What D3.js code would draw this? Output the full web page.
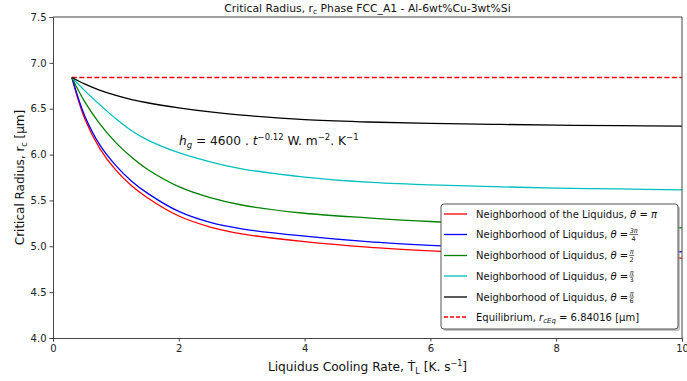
<!DOCTYPE html>
<html>
<head>
<meta charset="utf-8">
<script src="https://cdn.jsdelivr.net/npm/d3@7"></script>
<style>
  body{margin:0;background:#fff;}
  svg{font-family:"DejaVu Sans",sans-serif;}
</style>
</head>
<body>
<div id="chart"></div>
<script>
// cooling rate samples [K/s]
const rate = [0.3,0.5,0.75,1.0,1.25,1.5,2,2.5,3,4,5,6,7,8,9,10];
// critical radius [um] per contact angle
const rPi     = [6.84,6.40,6.06,5.83,5.66,5.53,5.33,5.21,5.135,5.05,4.99,4.95,4.92,4.90,4.885,4.87];
const r3Pi4   = [6.84,6.43,6.10,5.88,5.71,5.58,5.38,5.26,5.19,5.11,5.05,5.01,4.98,4.96,4.95,4.94];
const rPi2    = [6.84,6.58,6.33,6.13,5.97,5.84,5.65,5.53,5.45,5.36,5.31,5.27,5.245,5.225,5.21,5.20];
const rPi3    = [6.84,6.70,6.54,6.39,6.26,6.16,6.02,5.92,5.845,5.755,5.70,5.67,5.65,5.635,5.625,5.615];
const rPi6    = [6.84,6.77,6.70,6.645,6.60,6.565,6.51,6.465,6.43,6.38,6.355,6.34,6.33,6.32,6.315,6.31];
const rEq = 6.84016;
const xTicks = [0,2,4,6,8,10];
const yTicks = [4.0,4.5,5.0,5.5,6.0,6.5,7.0,7.5];

const series = [
  {vals:rPi,   color:'#ff0000', label:'Neighborhood of the Liquidus, θ = ', frac:null, tail:'π'},
  {vals:r3Pi4, color:'#0000ff', label:'Neighborhood of Liquidus, θ = ', frac:['3π','4']},
  {vals:rPi2,  color:'#008000', label:'Neighborhood of Liquidus, θ = ', frac:['π','2']},
  {vals:rPi3,  color:'#00bfbf', label:'Neighborhood of Liquidus, θ = ', frac:['π','3']},
  {vals:rPi6,  color:'#000000', label:'Neighborhood of Liquidus, θ = ', frac:['π','6']},
];

const W=687,H=381;
const m={t:17,r:5,b:43,l:53};
const iw=W-m.l-m.r, ih=H-m.t-m.b;
const svg=d3.select('#chart').append('svg').attr('width',W).attr('height',H);
const g=svg.append('g').attr('transform',`translate(${m.l},${m.t})`);

const x=d3.scaleLinear().domain([0,10]).range([0,iw]);
const y=d3.scaleLinear().domain([4,7.5]).range([ih,0]);

// equilibrium line
g.append('line')
  .attr('x1',x(rate[0])).attr('x2',x(10)).attr('y1',y(rEq)).attr('y2',y(rEq))
  .attr('stroke','#ff0000').attr('stroke-width',1.3).attr('stroke-dasharray','5,2.5');

const line=d3.line().x((d,i)=>x(rate[i])).y(d=>y(d)).curve(d3.curveCatmullRom.alpha(0.5));
series.forEach(s=>{
  g.append('path').attr('d',line(s.vals)).attr('fill','none')
    .attr('stroke',s.color).attr('stroke-width',1.3);
});

// axes
const ax=g.append('g').attr('transform',`translate(0,${ih})`)
  .call(d3.axisBottom(x).tickValues(xTicks).tickSize(3.5).tickPadding(3).tickFormat(d3.format('d')));
const ay=g.append('g')
  .call(d3.axisLeft(y).tickValues(yTicks).tickSize(3.5).tickPadding(3).tickFormat(d3.format('.1f')));
[ax,ay].forEach(a=>{
  a.selectAll('text').attr('font-size',10).attr('fill','#222').attr('font-family','DejaVu Sans');
  a.selectAll('line').attr('stroke','#444');
  a.select('.domain').attr('stroke','#444');
});
g.append('line').attr('x1',0).attr('x2',iw).attr('y1',0).attr('y2',0).attr('stroke','#444');
g.append('line').attr('x1',iw).attr('x2',iw).attr('y1',0).attr('y2',ih).attr('stroke','#444');

// title
const title=svg.append('text').attr('x',m.l+iw/2).attr('y',12).attr('text-anchor','middle')
  .attr('font-size',10.8).attr('fill','#111');
title.append('tspan').text('Critical Radius, r');
title.append('tspan').attr('font-size',7.5).attr('dy',2).text('c');
title.append('tspan').attr('dy',-2).text(' Phase FCC_A1 - Al-6wt%Cu-3wt%Si');

// x label
const xl=svg.append('text').attr('x',m.l+iw/2).attr('y',371).attr('text-anchor','middle')
  .attr('font-size',12.2).attr('fill','#111');
xl.append('tspan').text('Liquidus Cooling Rate, ');
xl.append('tspan').text('T\u0307');
xl.append('tspan').attr('font-size',8).attr('dy',3).text('L');
xl.append('tspan').attr('dy',-3).text(' [K. s');
xl.append('tspan').attr('font-size',8).attr('dy',-5).text('−1');
xl.append('tspan').attr('dy',5).text(']');

// y label
const yl=svg.append('text').attr('transform',`translate(24,${m.t+ih/2}) rotate(-90)`)
  .attr('text-anchor','middle').attr('font-size',12).attr('fill','#111');
yl.append('tspan').text('Critical Radius, r');
yl.append('tspan').attr('font-size',8).attr('dy',3).text('c');
yl.append('tspan').attr('dy',-3).text(' [μm]');

// annotation
const an=svg.append('text').attr('x',179).attr('y',145).attr('font-size',12.2).attr('fill','#111');
an.append('tspan').attr('font-style','italic').text('h');
an.append('tspan').attr('font-style','italic').attr('font-size',8.5).attr('dy',3).text('g');
an.append('tspan').attr('dy',-3).text(' = 4600 . ');
an.append('tspan').attr('font-style','italic').text('t');
an.append('tspan').attr('font-size',8.5).attr('dy',-5).text('−0.12');
an.append('tspan').attr('dy',5).text(' W. m');
an.append('tspan').attr('font-size',8.5).attr('dy',-5).text('−2');
an.append('tspan').attr('dy',5).text('. K');
an.append('tspan').attr('font-size',8.5).attr('dy',-5).text('−1');

// legend
const lg={x:441,y:204,w:237,h:125};
svg.append('rect').attr('x',lg.x+2).attr('y',lg.y+2).attr('width',lg.w).attr('height',lg.h)
  .attr('rx',3).attr('fill','#999').attr('opacity',0.6);
svg.append('rect').attr('x',lg.x).attr('y',lg.y).attr('width',lg.w).attr('height',lg.h)
  .attr('rx',3).attr('fill','#fff').attr('stroke','#555').attr('stroke-width',1);
const rows=[214,234.5,255.5,276,297,317];
const items=series.map(s=>({color:s.color,dash:null,label:s.label,frac:s.frac,tail:s.tail}));
items.push({color:'#ff0000',dash:'4,2',eq:true});
items.forEach((it,i)=>{
  const cy=rows[i];
  svg.append('line').attr('x1',444).attr('x2',467).attr('y1',cy).attr('y2',cy)
    .attr('stroke',it.color).attr('stroke-width',1.3).attr('stroke-dasharray',it.dash);
  const t=svg.append('text').attr('x',476).attr('y',cy+3.5).attr('font-size',10).attr('fill','#111');
  if(it.eq){
    t.append('tspan').text('Equilibrium, ');
    t.append('tspan').attr('font-style','italic').text('r');
    t.append('tspan').attr('font-style','italic').attr('font-size',7).attr('dy',2).text('cEq');
    t.append('tspan').attr('dy',-2).text(' = 6.84016 [μm]');
    return;
  }
  const parts=it.label.split('θ');
  t.append('tspan').text(parts[0]);
  t.append('tspan').attr('font-style','italic').text('θ');
  t.append('tspan').text(parts[1]);
  if(it.tail){ t.append('tspan').attr('font-style','italic').text(it.tail); return; }
  const fx=476+t.node().getComputedTextLength()+1;
  const fw=it.frac[0].length>1?9:5;
  const fc=fx+fw/2;
  svg.append('text').attr('x',fc).attr('y',cy-1.5).attr('text-anchor','middle')
    .attr('font-size',6.5).attr('font-style','italic').attr('fill','#111').text(it.frac[0]);
  svg.append('text').attr('x',fc).attr('y',cy+6).attr('text-anchor','middle')
    .attr('font-size',6.5).attr('fill','#111').text(it.frac[1]);
  svg.append('line').attr('x1',fx).attr('x2',fx+fw).attr('y1',cy).attr('y2',cy)
    .attr('stroke','#111').attr('stroke-width',0.6);
});
</script>
</body>
</html>
